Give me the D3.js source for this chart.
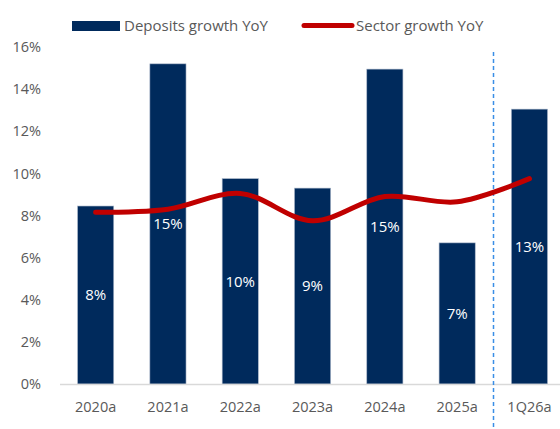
<!DOCTYPE html>
<html>
<head>
<meta charset="utf-8">
<script src="https://cdn.jsdelivr.net/npm/d3@7"></script>
<style>
  body { margin: 0; background: #fff; }
  svg { display: block; font-family: "Open Sans", "Liberation Sans", sans-serif; }
</style>
</head>
<body>
<svg width="560" height="429"></svg>
<script>
var categories = ['2020a', '2021a', '2022a', '2023a', '2024a', '2025a', '1Q26a'];
var deposits = [8.45, 15.2, 9.75, 9.3, 14.95, 6.7, 13.05];
var sector = [8.15, 8.3, 9.05, 7.75, 8.9, 8.65, 9.75];
var yTicks = [0, 2, 4, 6, 8, 10, 12, 14, 16];

var svg = d3.select('svg');
var navy = '#002a5c',
  red = '#c00000',
  grey = '#595959';

var x = d3.scaleBand()
  .domain(categories)
  .range([59.5, 565.6])
  .paddingInner(0.5)
  .paddingOuter(0.25);

var y = d3.scaleLinear()
  .domain([0, 16])
  .range([384, 47]);

// y tick labels (no axis line)
var yAxis = svg.append('g')
  .attr('transform', 'translate(41,0)')
  .call(d3.axisLeft(y).tickValues(yTicks).tickFormat(d => d + '%').tickSize(0).tickPadding(0));
yAxis.select('.domain').remove();
yAxis.selectAll('text')
  .attr('fill', grey)
  .style('font-size', '14.5px')
  .style('font-family', '"Open Sans", sans-serif');

// bars
svg.append('g')
  .selectAll('rect')
  .data(deposits)
  .enter()
  .append('rect')
  .attr('x', (d, i) => x(categories[i]))
  .attr('width', x.bandwidth())
  .attr('y', d => y(d))
  .attr('height', d => y(0) - y(d))
  .attr('fill', navy)
  .attr('stroke', '#a9b6c9')
  .attr('stroke-width', 0.6);

// x axis
var xAxis = svg.append('g')
  .attr('transform', 'translate(0,384)')
  .call(d3.axisBottom(x).tickSize(0).tickPadding(18));
xAxis.select('.domain').remove();
xAxis.selectAll('text')
  .attr('fill', grey)
  .style('font-size', '14.5px')
  .style('font-family', '"Open Sans", sans-serif');
svg.append('line')
  .attr('x1', 60).attr('x2', 560)
  .attr('y1', 384.5).attr('y2', 384.5)
  .attr('stroke', '#d9d9d9')
  .attr('stroke-width', 1.5);

// dashed separator
var sepX = Math.round((x('2025a') + x.bandwidth() + x('1Q26a')) / 2) + 0.5;
svg.append('line')
  .attr('x1', sepX).attr('x2', sepX)
  .attr('y1', 52).attr('y2', 429)
  .attr('stroke', '#3a8ee6')
  .attr('stroke-width', 1.5)
  .attr('stroke-dasharray', '4,3');

// sector line
var line = d3.line()
  .x((d, i) => x(categories[i]) + x.bandwidth() / 2)
  .y(d => y(d))
  .curve(d3.curveCatmullRom.alpha(0.5));

svg.append('path')
  .datum(sector)
  .attr('d', line)
  .attr('fill', 'none')
  .attr('stroke', red)
  .attr('stroke-width', 5)
  .attr('stroke-linecap', 'round');

// value labels in bars
svg.append('g')
  .selectAll('text')
  .data(deposits)
  .enter()
  .append('text')
  .attr('x', (d, i) => x(categories[i]) + x.bandwidth() / 2)
  .attr('y', d => (y(d) + y(0)) / 2)
  .attr('dy', '0.35em')
  .attr('text-anchor', 'middle')
  .attr('fill', '#fff')
  .style('font-size', '15px')
  .text(d => Math.round(d) + '%');

// legend
var legend = svg.append('g');
legend.append('rect')
  .attr('x', 72).attr('y', 21)
  .attr('width', 48).attr('height', 10)
  .attr('fill', navy);
legend.append('text')
  .attr('x', 124).attr('y', 26)
  .attr('dy', '0.35em')
  .attr('fill', grey)
  .style('font-size', '15px')
  .text('Deposits growth YoY');
legend.append('line')
  .attr('x1', 304).attr('x2', 352)
  .attr('y1', 25.5).attr('y2', 25.5)
  .attr('stroke', red)
  .attr('stroke-width', 5)
  .attr('stroke-linecap', 'round');
legend.append('text')
  .attr('x', 356).attr('y', 26)
  .attr('dy', '0.35em')
  .attr('fill', grey)
  .style('font-size', '15px')
  .text('Sector growth YoY');
</script>
</body>
</html>
